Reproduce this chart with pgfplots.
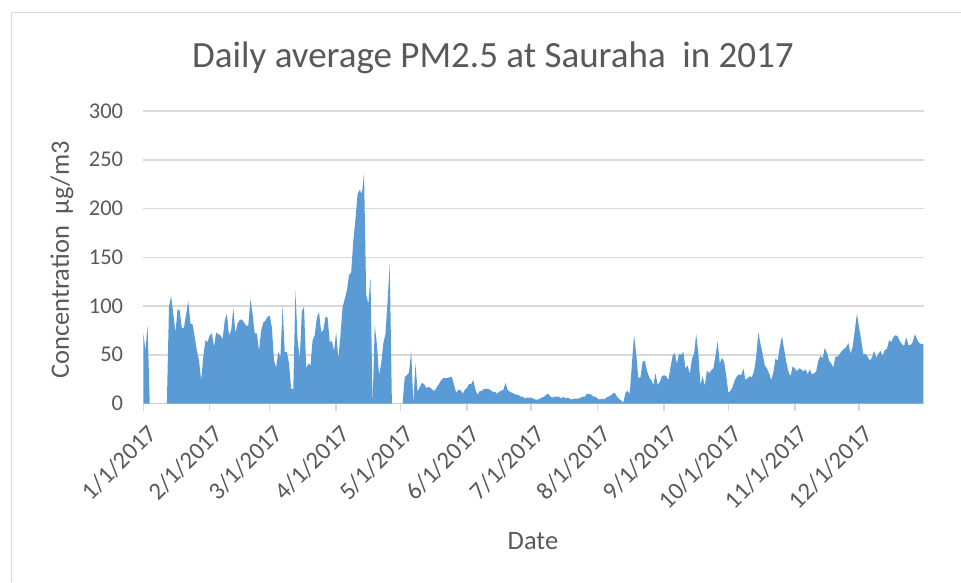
\documentclass[border=0pt]{standalone}
\usepackage{fontspec}
\setmainfont{Carlito}
\usepackage{pgfplots}
\pgfplotsset{compat=1.18}
\definecolor{areablue}{HTML}{5B9BD5}
\definecolor{gridgray}{HTML}{D9D9D9}
\definecolor{txtgray}{HTML}{595959}
\begin{document}
\begin{tikzpicture}[x=1pt,y=1pt]
\useasboundingbox (0,0) rectangle (961,582);
\draw[gridgray, line width=1pt] (11.7,0) -- (11.7,569.7) -- (961,569.7);
\begin{axis}[
  at={(143.3pt,178.5pt)}, anchor=south west,
  scale only axis, width=780.7pt, height=292.5pt,
  xmin=0, xmax=364.3, ymin=0, ymax=300,
  axis x line*=bottom, axis y line*=left,
  x axis line style={gridgray, line width=1.5pt, -},
  y axis line style={draw=none},
  ytick={0,50,...,300},
  ymajorgrids, grid style={gridgray, line width=1.5pt},
  xtick={0,31,59,90,120,151,181,212,243,273,304,334},
  xticklabels={1/1/2017,2/1/2017,3/1/2017,4/1/2017,5/1/2017,6/1/2017,7/1/2017,8/1/2017,9/1/2017,10/1/2017,11/1/2017,12/1/2017},
  xtick style={gridgray, line width=1.5pt}, ytick style={draw=none},
  tick align=outside, major tick length=7pt,
  tick label style={font=\fontsize{22.5}{24}\selectfont, text=txtgray},
  /pgf/number format/assume math mode=true,
  xticklabel style={font=\fontsize{24.5}{26}\selectfont, xshift=2.7pt, yshift=-12.5pt, rotate=45, anchor=north east, inner sep=0pt},
  yticklabel style={anchor=east, inner sep=0pt, xshift=-13pt},
]
\addplot[fill=areablue, draw=none] coordinates {
(0,73)(1,54)(2,80)(3,0)(4,0)(5,0)(6,0)(7,0)(8,0)(9,0)(10,0)(11,0)(12,100)(13,110)(14,92)(15,73)(16,97)(17,95)(18,77)(19,78)(20,92)(21,105)(22,82)(23,81)(24,68)(25,54)(26,44)(27,24)(28,48)(29,65)(30,63)
(31,70)(32,72)(33,58)(34,73)(35,71)(36,70)(37,66)(38,85)(39,92)(40,70)(41,75)(42,98)(43,72)(44,82)(45,86)(46,86)(47,83)(48,80)(49,80)(50,107)(51,92)(52,72)(53,72)(54,54)(55,75)(56,83)(57,85)(58,89)
(59,90)(60,78)(61,44)(62,37)(63,53)(64,48)(65,100)(66,53)(67,53)(68,41)(69,15)(70,15)(71,116)(72,65)(73,46)(74,95)(75,99)(76,36)(77,41)(78,39)(79,65)(80,70)(81,88)(82,94)(83,73)(84,75)(85,89)(86,88)(87,63)(88,64)(89,54)
(90,73)(91,46)(92,70)(93,99)(94,107)(95,116)(96,132)(97,134)(98,167)(99,189)(100,215)(101,219)(102,215)(103,236)(104,112)(105,102)(106,129)(107,0)(108,80)(109,61)(110,29)(111,41)(112,62)(113,71)(114,105)(115,143)(116,0)(117,0)(118,0)(119,0)
(120,0)(121,0)(122,27)(123,29)(124,32)(125,54)(126,0)(127,41)(128,12)(129,17)(130,21)(131,20)(132,16)(133,17)(134,16)(135,14)(136,13)(137,17)(138,20)(139,24)(140,26)(141,26)(142,26)(143,27)(144,27)(145,19)(146,11)(147,14)(148,14)(149,10)(150,14)
(151,16)(152,20)(153,20)(154,24)(155,14)(156,9)(157,13)(158,13)(159,15)(160,15)(161,15)(162,14)(163,12)(164,12)(165,10)(166,12)(167,13)(168,14)(169,21)(170,14)(171,12)(172,11)(173,10)(174,9)(175,9)(176,7)(177,7)(178,5)(179,6)(180,6)
(181,6)(182,5)(183,4)(184,4)(185,5)(186,6)(187,7)(188,9)(189,10)(190,7)(191,6)(192,7)(193,7)(194,7)(195,5)(196,7)(197,5)(198,6)(199,5)(200,4)(201,5)(202,5)(203,5)(204,6)(205,7)(206,7)(207,10)(208,10)(209,9)(210,7)(211,7)
(212,5)(213,4)(214,5)(215,4)(216,6)(217,7)(218,8)(219,10)(220,11)(221,7)(222,5)(223,3)(224,1)(225,11)(226,13)(227,10)(228,41)(229,70)(230,51)(231,26)(232,27)(233,43)(234,44)(235,34)(236,27)(237,24)(238,19)(239,31)(240,19)(241,22)(242,28)
(243,29)(244,28)(245,24)(246,37)(247,49)(248,52)(249,41)(250,51)(251,50)(252,53)(253,36)(254,39)(255,30)(256,46)(257,51)(258,71)(259,51)(260,19)(261,28)(262,18)(263,34)(264,31)(265,34)(266,36)(267,49)(268,64)(269,41)(270,47)(271,43)(272,29)
(273,11)(274,13)(275,17)(276,24)(277,28)(278,30)(279,29)(280,36)(281,24)(282,26)(283,28)(284,27)(285,33)(286,48)(287,73)(288,61)(289,51)(290,39)(291,36)(292,31)(293,24)(294,32)(295,46)(296,44)(297,58)(298,69)(299,56)(300,43)(301,33)(302,28)(303,38)
(304,36)(305,33)(306,36)(307,35)(308,33)(309,35)(310,30)(311,35)(312,30)(313,31)(314,33)(315,44)(316,49)(317,46)(318,57)(319,52)(320,44)(321,41)(322,37)(323,48)(324,48)(325,51)(326,54)(327,56)(328,58)(329,62)(330,51)(331,58)(332,75)(333,92)
(334,78)(335,65)(336,50)(337,51)(338,48)(339,44)(340,47)(341,54)(342,47)(343,51)(344,54)(345,49)(346,55)(347,56)(348,65)(349,63)(350,68)(351,70)(352,69)(353,64)(354,61)(355,59)(356,68)(357,60)(358,60)(359,63)(360,71)(361,66)(362,62)(363,61)(364,61)
} \closedcycle;
\end{axis}
\node[text=txtgray, font=\fontsize{37}{40}\selectfont] at (493,524) {Daily average PM2.5 at Sauraha\ \ in 2017};
\node[text=txtgray, font=\fontsize{26.5}{28}\selectfont, rotate=90] at (62,322) {Concentration\ \ µg/m3};
\node[text=txtgray, font=\fontsize{26.5}{28}\selectfont] at (533,41) {Date};
\end{tikzpicture}
\end{document}
